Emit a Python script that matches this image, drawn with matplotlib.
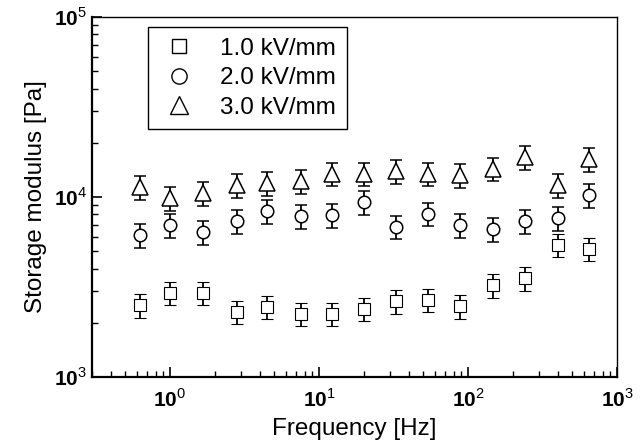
import numpy as np
import matplotlib
matplotlib.use('Agg')
import matplotlib.pyplot as plt
from matplotlib.lines import Line2D
from matplotlib.ticker import LogLocator, FixedLocator, FixedFormatter, NullFormatter

plt.rcParams['font.family'] = ['Liberation Sans', 'DejaVu Sans']
plt.rcParams['mathtext.fontset'] = 'custom'
plt.rcParams['mathtext.rm'] = 'Liberation Sans'
plt.rcParams['mathtext.bf'] = 'Liberation Sans:bold'

# Frequencies [Hz]
frequency = [0.63, 1.0, 1.67, 2.8, 4.5, 7.6, 12.2, 20, 33, 54, 89, 148, 240, 400, 650]

# Storage modulus [Pa]
g_1kv = [2510, 2930, 2930, 2300, 2450, 2240, 2240, 2390, 2640, 2680, 2480, 3240, 3550, 5410, 5140]
g_2kv = [6150, 6990, 6390, 7360, 8360, 7830, 7940, 9380, 6810, 8050, 6990, 6640, 7360, 7640, 10260]
g_3kv = [11370, 9870, 10520, 11660, 11960, 12270, 13430, 13430, 13940, 13430, 13250, 14310, 16690, 11660, 16260]

# Error bars [Pa]
err_1kv = [380, 420, 430, 340, 360, 330, 330, 350, 390, 400, 370, 480, 530, 800, 760]
err_2kv = [920, 1040, 950, 1100, 1250, 1170, 1180, 1400, 1010, 1200, 1040, 990, 1100, 1140, 1530]
err_3kv = [1700, 1470, 1570, 1740, 1780, 1830, 2000, 2000, 2080, 2000, 1980, 2130, 2490, 1740, 2420]

labels = ['1.0 kV/mm', '2.0 kV/mm', '3.0 kV/mm']

fig = plt.figure(figsize=(6.44, 4.45), dpi=100)
ax = fig.add_axes([0.143, 0.153, 0.815, 0.809])

series = [(g_1kv, err_1kv, 's', 8, 0.8), (g_2kv, err_2kv, 'o', 9, 1.1), (g_3kv, err_3kv, '^', 11, 1.1)]
handles = []
for (vals, errs, marker, size, mew), label in zip(series, labels):
    ax.errorbar(frequency, vals, yerr=errs, fmt=marker, ms=size, mfc='white', mec='black',
                mew=mew, ecolor='black', elinewidth=1.3, capsize=4, capthick=1.3)
    handles.append(Line2D([], [], ls='none', marker=marker, ms=size + 2, mfc='white',
                          mec='black', mew=1.0, label=label))

ax.set_xscale('log')
ax.set_yscale('log')
ax.set_xlim(0.3, 1000)
ax.set_ylim(1e3, 1e5)

ax.xaxis.set_major_locator(FixedLocator([1, 10, 100, 1000]))
ax.xaxis.set_major_formatter(FixedFormatter([r'$\mathbf{10}^{0}$', r'$\mathbf{10}^{1}$',
                                             r'$\mathbf{10}^{2}$', r'$\mathbf{10}^{3}$']))
ax.yaxis.set_major_locator(FixedLocator([1e3, 1e4, 1e5]))
ax.yaxis.set_major_formatter(FixedFormatter([r'$\mathbf{10}^{3}$', r'$\mathbf{10}^{4}$',
                                             r'$\mathbf{10}^{5}$']))
ax.xaxis.set_minor_locator(LogLocator(base=10, subs=np.arange(2, 10)))
ax.yaxis.set_minor_locator(LogLocator(base=10, subs=np.arange(2, 10)))
ax.xaxis.set_minor_formatter(NullFormatter())
ax.yaxis.set_minor_formatter(NullFormatter())

ax.tick_params(which='both', direction='in', top=False, right=False, labelsize=15)
ax.tick_params(which='major', length=7, width=1.2)
ax.tick_params(which='minor', length=4, width=1.0)
ax.tick_params(axis='x', pad=8)

ax.spines['left'].set_linewidth(1.6)
ax.spines['bottom'].set_linewidth(1.6)
ax.spines['top'].set_linewidth(1.0)
ax.spines['right'].set_linewidth(1.0)

ax.set_xlabel('Frequency [Hz]', fontsize=17.5, labelpad=5)
ax.set_ylabel('Storage modulus [Pa]', fontsize=17.5, labelpad=5)

leg = ax.legend(handles=handles, loc='upper left', bbox_to_anchor=(0.107, 0.972),
                borderaxespad=0, fontsize=17.5, frameon=True, fancybox=False,
                edgecolor='black', framealpha=1, handletextpad=0.9, borderpad=0.45,
                labelspacing=0.3, handlelength=1.6)
leg.get_frame().set_linewidth(1.0)

fig.savefig('out.png', dpi=100)
